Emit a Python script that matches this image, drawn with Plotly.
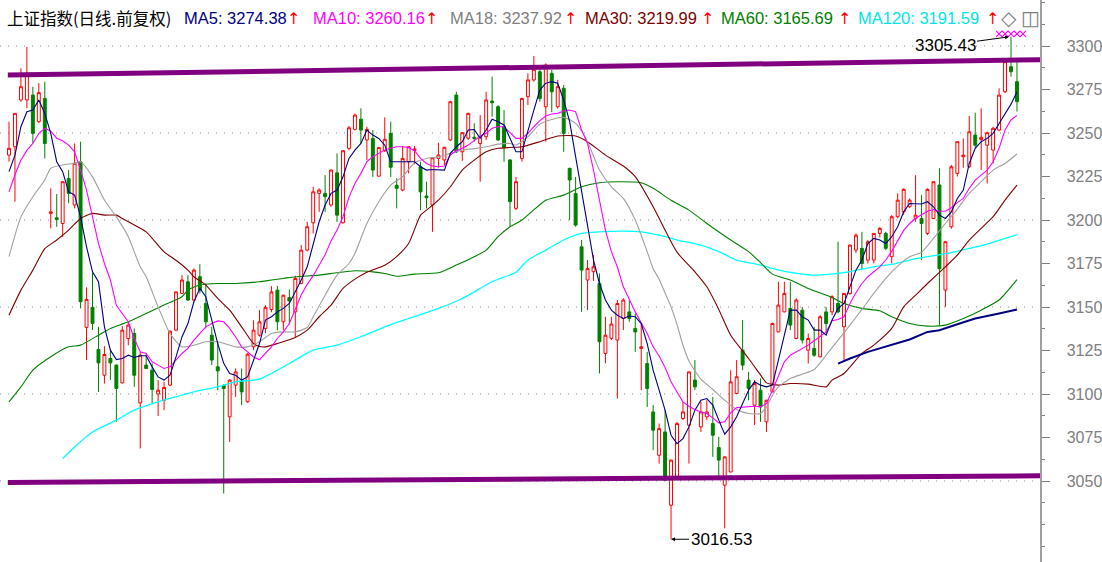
import plotly.graph_objects as go

# ---------------- data ----------------
bar = list(range(170))

open_ = [3237.3, 3242.1, 3269.0, 3269.0, 3271.8, 3256.5, 3269.9, 3203.8, 3201.3, 3198.0,
         3223.9, 3208.6, 3233.5, 3138.3, 3149.8, 3125.6, 3110.8, 3120.4, 3116.6, 3106.4,
         3131.9, 3134.8, 3094.9, 3116.6, 3113.7, 3100.0, 3096.4, 3105.1, 3136.7, 3157.8,
         3164.5, 3154.0, 3167.4, 3152.0, 3133.8, 3115.6, 3105.0, 3086.9, 3105.1, 3107.0,
         3095.5, 3127.1, 3133.8, 3137.7, 3148.6, 3159.7, 3141.5, 3155.4, 3147.2, 3163.6,
         3182.7, 3198.4, 3215.3, 3215.3, 3208.6, 3227.1, 3198.4, 3241.2, 3252.1, 3257.9,
         3246.0, 3246.9, 3225.2, 3239.8, 3249.8, 3220.0, 3217.2, 3233.5, 3240.0, 3230.6,
         3213.8, 3208.6, 3235.4, 3234.5, 3246.0, 3271.8, 3239.2, 3247.0, 3247.5, 3244.0,
         3247.9, 3268.4, 3265.1, 3253.6, 3234.5, 3206.7, 3235.4, 3270.9, 3280.5, 3285.2,
         3265.1, 3284.3, 3265.1, 3275.7, 3229.7, 3215.3, 3184.6, 3165.5, 3170.3, 3163.6,
         3123.3, 3132.0, 3131.0, 3143.4, 3147.2, 3137.7, 3126.2, 3117.5, 3089.7, 3064.8,
         3078.2, 3036.1, 3052.4, 3085.9, 3082.1, 3108.0, 3081.1, 3086.9, 3083.0, 3069.2,
         3047.6, 3055.2, 3100.3, 3125.2, 3108.0, 3093.6, 3102.2, 3084.0, 3101.2, 3135.7,
         3147.2, 3149.2, 3131.9, 3148.2, 3125.2, 3126.2, 3121.4, 3147.2, 3147.2, 3152.0,
         3138.6, 3157.8, 3182.7, 3183.7, 3177.0, 3177.0, 3192.3, 3192.3, 3178.9, 3201.9,
         3204.7, 3207.6, 3200.9, 3200.9, 3192.3, 3200.9, 3220.1, 3159.7, 3196.1, 3226.8,
         3236.4, 3230.6, 3248.8, 3246.3, 3243.0, 3240.2, 3251.7, 3273.7, 3288.1, 3279.5]

high = [3256.5, 3261.5, 3287.2, 3299.5, 3276.6, 3278.6, 3279.5, 3218.2, 3214.9, 3222.5,
        3228.7, 3244.0, 3245.0, 3161.3, 3169.6, 3138.6, 3127.5, 3125.6, 3117.0, 3139.0,
        3140.9, 3137.7, 3124.2, 3123.3, 3117.6, 3108.0, 3107.0, 3136.5, 3159.0, 3168.3,
        3168.3, 3172.2, 3174.6, 3163.6, 3138.6, 3130.0, 3105.5, 3108.5, 3114.7, 3114.7,
        3123.5, 3142.4, 3148.2, 3151.0, 3162.0, 3162.0, 3157.0, 3160.0, 3168.0, 3185.6,
        3199.0, 3219.1, 3218.2, 3225.8, 3229.0, 3238.3, 3240.2, 3254.0, 3261.2, 3264.2,
        3253.6, 3251.7, 3242.0, 3259.0, 3256.5, 3224.0, 3242.5, 3242.5, 3242.5, 3233.5,
        3222.0, 3236.0, 3244.4, 3242.0, 3268.5, 3273.7, 3250.5, 3261.6, 3255.6, 3260.3,
        3273.7, 3282.4, 3266.0, 3263.2, 3235.0, 3224.8, 3270.2, 3284.3, 3294.3, 3288.1,
        3290.0, 3286.2, 3280.5, 3277.6, 3230.0, 3224.8, 3188.5, 3177.0, 3179.8, 3169.3,
        3144.4, 3144.4, 3154.0, 3155.0, 3154.0, 3146.3, 3140.5, 3124.2, 3093.6, 3083.0,
        3090.7, 3062.3, 3084.0, 3095.5, 3113.0, 3119.5, 3095.5, 3096.4, 3098.3, 3075.4,
        3064.0, 3113.7, 3119.5, 3142.5, 3112.7, 3108.0, 3108.9, 3096.7, 3141.0, 3164.5,
        3164.5, 3164.5, 3155.0, 3150.1, 3134.8, 3138.6, 3145.3, 3150.1, 3156.8, 3187.5,
        3158.0, 3186.0, 3192.3, 3193.2, 3188.5, 3192.5, 3196.1, 3193.2, 3202.8, 3215.3,
        3218.2, 3212.4, 3225.8, 3214.3, 3218.2, 3222.2, 3229.7, 3188.0, 3231.6, 3245.3,
        3246.9, 3259.8, 3261.7, 3264.2, 3250.8, 3253.6, 3275.7, 3292.0, 3305.43, 3292.9]

low = [3233.5, 3210.5, 3268.0, 3264.2, 3244.0, 3255.6, 3235.4, 3195.2, 3196.1, 3190.3,
       3209.6, 3206.7, 3149.2, 3119.5, 3136.8, 3101.2, 3106.0, 3108.0, 3084.0, 3106.0,
       3128.0, 3104.1, 3068.7, 3114.5, 3094.6, 3087.3, 3090.7, 3104.5, 3136.0, 3157.5,
       3153.5, 3153.5, 3157.8, 3137.7, 3116.6, 3102.2, 3042.8, 3072.5, 3098.3, 3093.6,
       3095.0, 3125.3, 3133.0, 3135.0, 3147.0, 3136.7, 3136.7, 3140.0, 3132.8, 3163.0,
       3182.0, 3192.3, 3204.7, 3204.7, 3207.6, 3199.0, 3198.0, 3240.0, 3251.5, 3244.0,
       3234.5, 3224.8, 3225.0, 3239.0, 3224.8, 3206.7, 3216.5, 3226.8, 3232.0, 3205.7,
       3206.7, 3193.2, 3230.0, 3231.6, 3245.5, 3238.5, 3234.0, 3246.0, 3245.0, 3222.0,
       3246.0, 3259.4, 3245.5, 3233.5, 3196.1, 3205.7, 3233.5, 3266.1, 3279.5, 3268.0,
       3245.0, 3262.0, 3264.0, 3239.2, 3200.0, 3196.1, 3147.2, 3148.2, 3165.0, 3111.8,
       3117.6, 3131.0, 3097.4, 3136.7, 3141.5, 3124.2, 3102.2, 3092.6, 3067.7, 3060.0,
       3050.0, 3016.53, 3052.0, 3085.0, 3060.0, 3102.2, 3078.2, 3085.0, 3063.9, 3050.5,
       3022.7, 3055.0, 3100.0, 3113.7, 3096.4, 3082.1, 3084.0, 3078.2, 3101.0, 3135.5,
       3147.0, 3136.7, 3131.5, 3129.0, 3117.5, 3121.4, 3121.0, 3134.8, 3145.3, 3146.3,
       3119.5, 3157.0, 3181.0, 3171.2, 3175.0, 3175.0, 3190.0, 3182.7, 3175.0, 3201.0,
       3203.0, 3207.0, 3199.0, 3177.0, 3191.3, 3200.5, 3139.6, 3150.1, 3195.0, 3225.0,
       3230.0, 3230.0, 3241.5, 3228.7, 3221.0, 3232.5, 3251.0, 3273.0, 3282.4, 3262.3]

close = [3241.2, 3261.3, 3276.6, 3283.3, 3249.8, 3273.2, 3244.0, 3204.7, 3200.3, 3222.0,
         3215.3, 3232.6, 3153.0, 3154.4, 3140.6, 3117.9, 3122.7, 3117.9, 3103.2, 3136.7,
         3139.6, 3110.8, 3122.3, 3114.7, 3102.6, 3102.2, 3103.8, 3136.1, 3158.7, 3165.5,
         3154.0, 3171.2, 3159.7, 3141.5, 3119.5, 3113.3, 3103.2, 3108.0, 3112.7, 3101.2,
         3122.9, 3136.7, 3141.5, 3149.8, 3158.7, 3141.5, 3156.8, 3153.5, 3166.4, 3182.7,
         3196.1, 3216.2, 3217.2, 3213.4, 3228.7, 3202.8, 3239.8, 3253.0, 3260.3, 3251.7,
         3252.1, 3228.7, 3241.7, 3246.4, 3230.3, 3218.2, 3235.4, 3242.1, 3240.8, 3216.2,
         3212.8, 3235.8, 3237.4, 3241.8, 3268.0, 3239.2, 3250.2, 3261.3, 3247.0, 3247.9,
         3269.0, 3267.4, 3246.0, 3241.8, 3210.5, 3222.0, 3269.9, 3280.5, 3286.6, 3269.9,
         3289.1, 3273.7, 3276.6, 3249.8, 3223.0, 3197.1, 3171.2, 3172.2, 3173.1, 3130.0,
         3133.8, 3140.2, 3152.0, 3154.0, 3143.4, 3135.7, 3127.1, 3103.2, 3079.2, 3080.1,
         3050.5, 3062.0, 3083.0, 3089.7, 3112.7, 3104.1, 3089.7, 3089.7, 3076.3, 3062.0,
         3063.9, 3107.0, 3109.9, 3116.6, 3103.2, 3106.0, 3092.6, 3096.4, 3140.5, 3151.1,
         3157.8, 3139.6, 3154.0, 3131.0, 3131.9, 3122.3, 3144.4, 3140.5, 3155.9, 3147.2,
         3157.8, 3185.6, 3191.3, 3175.0, 3187.5, 3192.3, 3195.2, 3183.7, 3201.9, 3211.4,
         3217.6, 3211.4, 3202.8, 3198.0, 3217.6, 3222.0, 3172.0, 3187.5, 3230.6, 3245.0,
         3237.3, 3250.7, 3243.0, 3247.5, 3250.2, 3252.7, 3271.8, 3291.0, 3285.2, 3268.0]

ma5 = [3227.8, 3237.3, 3253.6, 3262.2, 3263.2, 3269.0, 3261.3, 3249.8, 3233.5, 3227.8,
       3216.2, 3214.3, 3201.8, 3184.6, 3170.2, 3164.5, 3138.6, 3125.2, 3119.8, 3120.4,
       3122.3, 3121.0, 3122.0, 3122.0, 3115.6, 3109.8, 3108.0, 3110.8, 3121.3, 3132.8,
       3140.5, 3153.0, 3160.7, 3155.9, 3142.5, 3129.0, 3117.6, 3111.8, 3110.8, 3108.0,
       3109.8, 3119.5, 3129.0, 3142.5, 3144.4, 3147.2, 3149.2, 3152.0, 3158.7, 3165.5,
       3173.1, 3186.6, 3199.0, 3208.6, 3215.3, 3217.2, 3224.8, 3235.4, 3240.2, 3244.0,
       3251.7, 3248.8, 3246.9, 3243.0, 3233.5, 3233.5, 3233.5, 3233.5, 3233.5, 3230.6,
       3228.7, 3229.0, 3229.0, 3228.7, 3238.3, 3242.1, 3245.0, 3251.7, 3252.0, 3246.9,
       3251.7, 3257.9, 3256.5, 3254.6, 3247.0, 3239.2, 3239.2, 3251.7, 3263.2, 3274.7,
       3278.6, 3279.5, 3278.6, 3269.0, 3256.5, 3236.4, 3217.2, 3198.0, 3177.0, 3163.5,
       3154.0, 3148.2, 3145.3, 3143.4, 3144.8, 3144.4, 3140.5, 3129.0, 3113.7, 3102.2,
       3090.7, 3076.3, 3071.5, 3074.4, 3081.1, 3090.7, 3096.4, 3097.4, 3093.6, 3085.0,
       3076.9, 3081.1, 3086.9, 3094.5, 3102.2, 3107.0, 3105.1, 3104.1, 3105.1, 3119.5,
       3134.8, 3148.2, 3148.2, 3144.4, 3142.5, 3136.7, 3136.7, 3133.8, 3142.5, 3149.2,
       3152.0, 3161.6, 3171.2, 3177.0, 3186.5, 3189.4, 3188.5, 3186.5, 3190.4, 3196.1,
       3204.7, 3209.5, 3209.5, 3209.2, 3210.5, 3207.6, 3202.8, 3200.9, 3204.7, 3212.4,
       3217.2, 3232.5, 3241.2, 3245.0, 3246.9, 3249.8, 3255.5, 3261.3, 3266.6, 3273.7]

ma10 = [3216.2, 3226.0, 3234.5, 3240.0, 3244.0, 3249.8, 3252.7, 3251.0, 3247.0, 3245.5,
        3243.0, 3239.2, 3228.7, 3217.2, 3201.8, 3186.6, 3175.0, 3165.5, 3151.0, 3146.3,
        3141.5, 3131.9, 3124.2, 3123.3, 3118.5, 3116.6, 3114.7, 3115.6, 3119.5, 3123.3,
        3126.2, 3131.0, 3134.8, 3138.6, 3140.5, 3142.0, 3141.5, 3137.7, 3132.8, 3127.1,
        3124.2, 3121.3, 3119.7, 3123.3, 3127.1, 3131.9, 3135.7, 3140.5, 3149.2, 3157.0,
        3163.0, 3168.0, 3174.0, 3180.0, 3188.0, 3194.2, 3201.9, 3213.0, 3221.0, 3226.8,
        3233.5, 3236.4, 3238.3, 3240.2, 3241.2, 3242.1, 3242.1, 3241.7, 3239.8, 3235.4,
        3232.5, 3231.0, 3230.6, 3231.0, 3237.3, 3239.8, 3241.2, 3243.1, 3245.6, 3248.3,
        3249.8, 3252.7, 3253.6, 3253.6, 3250.2, 3246.9, 3246.9, 3249.8, 3253.6, 3257.1,
        3259.8, 3260.9, 3261.3, 3262.6, 3263.2, 3262.2, 3251.8, 3244.0, 3228.7, 3211.4,
        3194.2, 3181.8, 3173.0, 3161.6, 3154.0, 3147.2, 3140.9, 3134.8, 3127.1, 3121.8,
        3115.2, 3107.0, 3101.2, 3095.5, 3093.0, 3091.1, 3089.7, 3088.8, 3086.3, 3083.4,
        3084.0, 3089.2, 3092.2, 3092.6, 3092.6, 3093.0, 3092.6, 3094.5, 3102.2, 3109.9,
        3118.5, 3122.3, 3124.2, 3126.2, 3128.1, 3130.6, 3133.3, 3135.7, 3142.1, 3142.8,
        3144.4, 3152.0, 3158.2, 3163.5, 3167.4, 3170.0, 3173.0, 3177.0, 3182.0, 3188.0,
        3194.0, 3198.0, 3201.0, 3203.0, 3205.0, 3206.0, 3205.0, 3205.0, 3207.0, 3210.0,
        3212.4, 3218.2, 3222.9, 3225.8, 3228.7, 3233.5, 3241.2, 3251.7, 3257.5, 3260.16]

ma18_x = [0, 2, 4, 6, 7, 9, 11, 12, 14, 16, 18, 20, 22, 23, 25, 27, 29, 31, 33, 35, 38, 40,
          42, 44, 46, 48, 50, 51, 53, 55, 57, 58, 60, 62, 64, 66, 68, 70, 72, 74, 76, 78,
          80, 82, 84, 85, 87, 89, 91, 93, 95, 97, 99, 101, 103, 105, 107, 108, 109, 110,
          111, 112, 113, 114, 116, 118, 120, 122, 124, 126, 127, 128, 129, 131, 133, 135,
          137, 139, 141, 143, 145, 147, 149, 151, 153, 155, 157, 159, 161, 163, 165, 167, 169]
ma18_y = [3178.9, 3201.8, 3213.4, 3223.0, 3229.7, 3231.6, 3232.6, 3233.5, 3224.8, 3211.5,
          3201.8, 3190.4, 3173.1, 3167.4, 3150.1, 3134.8, 3127.1, 3128.0, 3130.0, 3130.0,
          3127.1, 3127.1, 3130.0, 3134.8, 3135.7, 3135.7, 3138.2, 3144.4, 3156.8, 3168.3,
          3175.0, 3180.8, 3198.0, 3210.5, 3220.1, 3224.9, 3232.9, 3235.4, 3236.4, 3238.3,
          3240.2, 3241.0, 3242.1, 3243.6, 3244.0, 3243.1, 3247.9, 3255.1, 3257.8, 3259.0,
          3255.5, 3245.0, 3228.7, 3219.1, 3212.4, 3200.0, 3181.8, 3172.0, 3166.0, 3158.0,
          3150.1, 3140.0, 3128.0, 3119.0, 3108.5, 3102.6, 3096.4, 3091.1, 3088.8, 3088.8,
          3092.6, 3099.3, 3104.1, 3108.9, 3111.4, 3114.1, 3122.3, 3131.0, 3139.6, 3148.6,
          3157.8, 3166.4, 3173.5, 3178.9, 3181.5, 3189.4, 3198.0, 3206.3, 3215.3, 3222.0,
          3228.7, 3232.5, 3237.92]

ma30_x = [0, 2, 4, 6, 8, 10, 12, 14, 16, 18, 19, 21, 23, 26, 28, 30, 31, 33, 35, 37, 39,
          41, 42, 43, 45, 48, 50, 52, 54, 56, 58, 60, 63, 65, 67, 69, 70, 72, 74, 76, 78,
          80, 82, 84, 86, 89, 92, 95, 97, 100, 103, 105, 108, 110, 112, 115, 117, 119, 121,
          124, 126, 127, 129, 131, 134, 137, 138, 140, 143, 145, 148, 150, 152, 154, 157,
          159, 161, 163, 165, 167, 169]
ma30_y = [3145.3, 3159.7, 3171.2, 3183.5, 3188.5, 3194.2, 3200.9, 3203.8, 3202.8, 3202.8,
          3200.9, 3197.1, 3193.2, 3181.7, 3176.9, 3171.2, 3167.4, 3162.6, 3154.9, 3148.2,
          3138.6, 3129.0, 3127.3, 3127.1, 3129.0, 3132.5, 3136.7, 3144.4, 3151.1, 3160.7,
          3166.0, 3170.0, 3174.0, 3179.0, 3186.5, 3202.8, 3205.7, 3211.4, 3219.1, 3228.7,
          3234.4, 3239.2, 3241.2, 3241.7, 3242.1, 3245.0, 3248.3, 3248.3, 3245.0, 3237.3,
          3231.0, 3224.9, 3207.6, 3194.2, 3181.5, 3170.2, 3161.6, 3148.6, 3133.8, 3120.4,
          3111.0, 3106.4, 3105.1, 3106.0, 3105.7, 3104.1, 3108.0, 3111.8, 3123.3, 3128.1,
          3137.7, 3150.1, 3156.8, 3163.5, 3173.1, 3179.8, 3188.5, 3195.2, 3201.9, 3211.4,
          3219.99]

ma60_x = [0, 2, 4, 7, 10, 12, 15, 17, 20, 23, 26, 29, 30, 32, 35, 38, 42, 44, 46, 48, 52,
          55, 58, 61, 63, 65, 68, 72, 75, 78, 80, 82, 84, 86, 90, 93, 96, 99, 102, 106, 108,
          111, 114, 117, 121, 124, 126, 128, 131, 134, 138, 140, 143, 146, 148, 151, 154,
          157, 160, 163, 166, 169]
ma60_y = [3095.5, 3104.1, 3113.7, 3121.4, 3127.1, 3128.1, 3133.8, 3137.7, 3141.5, 3146.3,
          3151.1, 3155.9, 3159.7, 3162.6, 3163.5, 3163.5, 3164.5, 3165.5, 3166.4, 3167.4,
          3168.3, 3169.7, 3170.8, 3170.2, 3169.3, 3167.7, 3168.9, 3169.7, 3174.1, 3178.9,
          3182.7, 3190.4, 3196.1, 3200.0, 3211.4, 3214.3, 3219.1, 3221.4, 3222.0, 3221.4,
          3218.2, 3211.4, 3205.7, 3198.0, 3188.5, 3181.8, 3175.5, 3168.9, 3165.5, 3160.7,
          3155.5, 3152.0, 3149.2, 3147.8, 3144.4, 3140.5, 3139.0, 3139.6, 3143.4, 3148.2,
          3154.0, 3165.69]

ma120_x = [9, 11, 14, 18, 21, 25, 28, 31, 35, 38, 42, 44, 47, 51, 55, 59, 63, 67, 72, 76,
           81, 85, 87, 90, 93, 96, 99, 103, 106, 109, 112, 116, 119, 122, 126, 130, 135,
           140, 145, 148, 151, 154, 158, 161, 164, 169]
ma120_y = [3062.9, 3069.6, 3078.2, 3085.0, 3090.7, 3095.5, 3098.4, 3101.2, 3104.1, 3107.0,
           3108.5, 3111.8, 3117.5, 3125.2, 3128.1, 3132.9, 3138.6, 3143.4, 3149.2, 3154.9,
           3164.5, 3170.0, 3177.0, 3182.7, 3188.5, 3192.3, 3193.2, 3193.6, 3193.2, 3191.3,
           3188.5, 3185.6, 3181.8, 3177.0, 3174.1, 3170.5, 3168.3, 3169.7, 3173.1, 3174.5,
           3177.0, 3178.9, 3181.2, 3183.7, 3186.2, 3191.59]

trend_x = [139, 141, 144, 148, 151, 154, 156, 159, 162, 166, 169]
trend_y = [3117.5, 3120.4, 3124.2, 3128.1, 3131.3, 3135.7, 3136.7, 3140.1, 3143.4, 3146.3, 3148.6]

resist_x = [-0.2, 172.9]
resist_y = [3283.3, 3292.1]
support_x = [-0.2, 172.9]
support_y = [3049.2, 3053.0]

signal_x = [166, 167, 168, 169, 170]
signal_y = [3307.0, 3307.0, 3307.0, 3307.0, 3307.0]

grid_levels = [3050, 3100, 3150, 3200, 3250, 3300]
tick_levels = [3050, 3075, 3100, 3125, 3150, 3175, 3200, 3225, 3250, 3275, 3300]

legend_items = [
    ("上证指数(日线.前复权)", "#000000"),
    ("MA5: 3274.38", "#000080"), ("↑", "#FF0000"),
    ("MA10: 3260.16", "#FF00FF"), ("↑", "#FF0000"),
    ("MA18: 3237.92", "#808080"), ("↑", "#FF0000"),
    ("MA30: 3219.99", "#800000"), ("↑", "#FF0000"),
    ("MA60: 3165.69", "#008000"), ("↑", "#FF0000"),
    ("MA120: 3191.59", "#00E5E5"), ("↑", "#FF0000"),
    ("◇", "#808080"), ("◫", "#808080"),
]
legend_px = [5, 182, 285, 311, 423, 448, 562, 583, 699, 719, 836, 856, 984, 999, 1019]

# ---------------- figure ----------------
W, H = 1102, 562
PLOT_W = 1040

fig = go.Figure()

fig.add_trace(go.Candlestick(
    x=bar, open=open_, high=high, low=low, close=close,
    increasing=dict(line=dict(color="#FF0000", width=1), fillcolor="#FFFFFF"),
    decreasing=dict(line=dict(color="#008000", width=1), fillcolor="#008000"),
    whiskerwidth=0, hoverinfo="skip", showlegend=False,
))

def line(x, y, color, width=1.0, shape="linear"):
    fig.add_trace(go.Scatter(x=x, y=y, mode="lines", hoverinfo="skip", showlegend=False,
                             line=dict(color=color, width=width, shape=shape,
                                       smoothing=0.6 if shape == "spline" else None)))

line(ma120_x, ma120_y, "#00FFFF", 1.3, "spline")
line(ma60_x, ma60_y, "#008000", 1.1, "spline")
line(ma30_x, ma30_y, "#800000", 1.1, "spline")
line(ma18_x, ma18_y, "#A0A0A0", 1.1, "spline")
line(bar, ma10, "#FF00FF", 1.1)
line(bar, ma5, "#000080", 1.1)
line(trend_x, trend_y, "#000080", 2.0)
line(resist_x, resist_y, "#800080", 5.0)
line(support_x, support_y, "#800080", 5.0)

fig.add_trace(go.Scatter(x=signal_x, y=signal_y, mode="markers", hoverinfo="skip",
                         showlegend=False,
                         marker=dict(symbol="x-thin", size=6, line=dict(color="#FF00FF", width=1.2))))

# dotted horizontal grid
shapes = []
for lv in grid_levels:
    shapes.append(dict(type="line", xref="paper", x0=0, x1=1, yref="y", y0=lv, y1=lv,
                       line=dict(color="#909090", width=1, dash="1px,7px"), layer="below"))
fig.update_layout(shapes=shapes)

annotations = []
for (txt, col), px in zip(legend_items, legend_px):
    is_cjk = txt.startswith("上")
    is_icon = txt in ("◇", "◫")
    fam = "Noto Sans CJK SC" if is_cjk else ("DejaVu Sans" if txt in ("↑", "◇", "◫") else "Liberation Sans")
    size = 20 if is_icon else (16 if fam == "DejaVu Sans" else 16.5)
    annotations.append(dict(xref="paper", yref="paper", x=px / PLOT_W, y=1 - 18 / H,
                            xanchor="left", yanchor="middle", showarrow=False, text=txt,
                            font=dict(family=fam, size=size, color=col)))

# high / low labels
hi_i = high.index(max(high))
lo_i = low.index(min(low))
annotations.append(dict(x=bar[hi_i], y=high[hi_i], xref="x", yref="y",
                        text=f"{high[hi_i]:.2f}", showarrow=True, arrowhead=2, arrowsize=0.8,
                        arrowwidth=1, arrowcolor="#000000", ax=-66, ay=9, standoff=2,
                        font=dict(family="Liberation Sans", size=17, color="#000000")))
annotations.append(dict(x=bar[lo_i], y=low[lo_i], xref="x", yref="y",
                        text=f"{low[lo_i]:.2f}", showarrow=True, arrowhead=2, arrowsize=0.8,
                        arrowwidth=1, arrowcolor="#000000", ax=50, ay=0, standoff=0,
                        font=dict(family="Liberation Sans", size=17, color="#000000")))
fig.update_layout(annotations=annotations)

fig.update_layout(
    width=W, height=H, margin=dict(l=0, r=W - PLOT_W, t=0, b=0, pad=0),
    paper_bgcolor="#FFFFFF", plot_bgcolor="#FFFFFF", showlegend=False,
    xaxis=dict(range=[-1.509, 172.86], visible=False, rangeslider=dict(visible=False),
               showgrid=False, zeroline=False, fixedrange=True),
    yaxis=dict(range=[3003.45, 3326.44], side="right", showgrid=False, zeroline=False,
               tickvals=tick_levels, ticktext=[str(v) for v in tick_levels],
               ticks="outside", ticklen=8, tickcolor="#808080", tickwidth=1,
               minor=dict(dtick=12.5, tick0=3050, ticks="outside", ticklen=3,
                          tickcolor="#808080", showgrid=False),
               showline=True, linecolor="#A0A0A0", linewidth=1.5,
               tickfont=dict(family="Liberation Sans", size=16, color="#808080"),
               ticklabelstandoff=14, fixedrange=True),
)

fig.write_html("out.html",
               config={"displayModeBar": False, "staticPlot": True},
               post_script="document.body.style.margin='0px';document.body.style.overflow='hidden';")
